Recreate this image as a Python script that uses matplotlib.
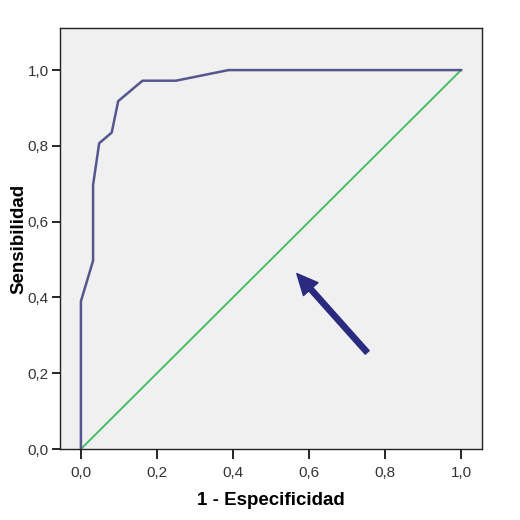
import numpy as np
import matplotlib
matplotlib.use('agg')
import matplotlib.pyplot as plt
from matplotlib.ticker import FuncFormatter

plt.rcParams['font.family'] = ['Liberation Sans', 'DejaVu Sans']

# ROC curve points
fpr = [0.0, 0.0, 0.032, 0.032, 0.048, 0.081, 0.098, 0.162, 0.25, 0.388, 1.0]
tpr = [0.0, 0.39, 0.497, 0.697, 0.807, 0.835, 0.918, 0.972, 0.972, 1.0, 1.0]
ref_line = [0.0, 1.0]
ticks = [0.0, 0.2, 0.4, 0.6, 0.8, 1.0]

# arrow tail / head in data units
arrow_tail = (0.753, 0.255)
arrow_head = (0.568, 0.463)

fig = plt.figure(figsize=(5.2, 5.2), dpi=100)
ax = fig.add_axes([0.1154, 0.1365, 0.8115, 0.8096])
ax.set_facecolor('#f0f0f0')

ax.plot(ref_line, ref_line, color='#3dbb5e', lw=1.3)
ax.plot(fpr, tpr, color='#56568f', lw=1.8)

ax.annotate('', xy=arrow_head, xytext=arrow_tail,
            arrowprops=dict(facecolor='#2a2a80', edgecolor='#2a2a80',
                            width=3.8, headwidth=14, headlength=15))

ax.set_xlim(-0.055, 1.055)
ax.set_ylim(0, 1.111)
ax.set_xticks(ticks)
ax.set_yticks(ticks)
fmt = FuncFormatter(lambda v, p: f'{v:.1f}'.replace('.', ','))
ax.xaxis.set_major_formatter(fmt)
ax.yaxis.set_major_formatter(fmt)
ax.tick_params(direction='out', length=6, width=1.2, labelsize=11, pad=2,
               colors='black', labelcolor='#333333')
ax.tick_params(axis='x', length=7, pad=5)
for s in ax.spines.values():
    s.set_color('#222222')
    s.set_linewidth(1.0)

ax.set_xlabel('1 - Especificidad', fontsize=13.5, fontweight='bold', labelpad=9)
ax.set_ylabel('Sensibilidad', fontsize=13.5, fontweight='bold', labelpad=0)

fig.savefig('out.png', dpi=100, facecolor='white')
